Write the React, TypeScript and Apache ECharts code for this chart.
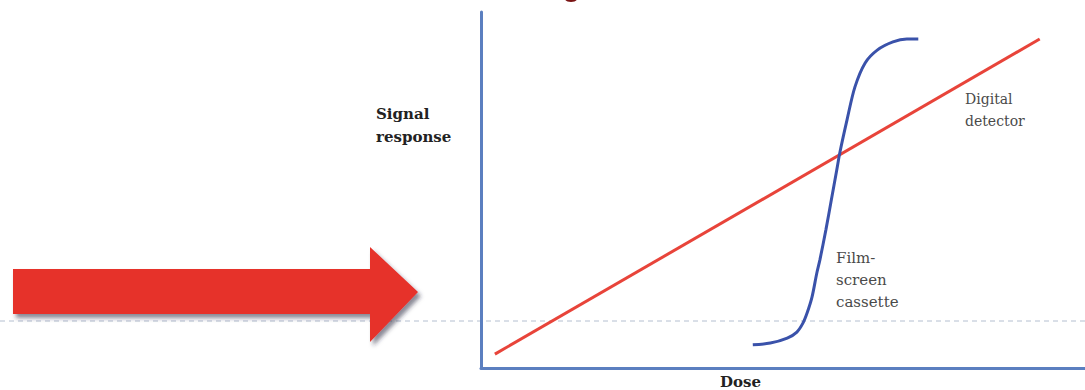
import React, { useEffect, useRef } from "react";
import * as echarts from "echarts";

// Straight-line response (Digital detector): [dose, signal]
const digitalDetector: [number, number][] = [
  [2.3, 3.9],
  [92.5, 92.4],
];

// S-shaped response (Film-screen cassette): [dose, signal]
const filmScreen: [number, number][] = [
  [45.0, 6.5],
  [47.9, 7.0],
  [50.7, 8.4],
  [52.3, 10.1],
  [53.3, 12.6],
  [54.0, 15.5],
  [54.8, 19.9],
  [55.6, 26.7],
  [56.1, 30.3],
  [57.1, 38.8],
  [58.0, 47.2],
  [58.9, 55.6],
  [59.4, 60.4],
  [60.6, 69.7],
  [61.9, 78.9],
  [63.6, 85.7],
  [65.6, 89.3],
  [68.2, 91.6],
  [70.5, 92.4],
  [72.4, 92.4],
];

const yAxisTitle = ["Signal", "response"];
const xAxisTitle = "Dose";
const digitalLabel = ["Digital", "detector"];
const filmLabel = ["Film-", "screen", "cassette"];

export default function App() {
  const ref = useRef<HTMLDivElement>(null);

  useEffect(() => {
    if (!ref.current) return;
    const chart = echarts.init(ref.current, undefined, { renderer: "svg" });
    const axisColor = "#5b7fc0";
    const serif = "DejaVu Serif";
    chart.setOption({
      animation: false,
      backgroundColor: "#ffffff",
      grid: { left: 481, right: 0, top: 12, bottom: 22 },
      xAxis: {
        type: "value",
        min: 0,
        max: 100,
        axisLine: { show: true, lineStyle: { color: axisColor, width: 3 } },
        axisTick: { show: false },
        axisLabel: { show: false },
        splitLine: { show: false },
      },
      yAxis: {
        type: "value",
        min: 0,
        max: 100,
        axisLine: { show: true, lineStyle: { color: axisColor, width: 3 } },
        axisTick: { show: false },
        axisLabel: { show: false },
        splitLine: { show: false },
      },
      graphic: [
        {
          type: "line",
          z: 0,
          shape: { x1: 0, y1: 321, x2: 1085, y2: 321 },
          style: { stroke: "#b4bfd0", lineWidth: 1, lineDash: [5, 4] },
        },
        {
          type: "polygon",
          z: 10,
          shape: {
            points: [
              [13, 269],
              [370, 269],
              [370, 247],
              [418, 292],
              [370, 342],
              [370, 314],
              [13, 314],
            ],
          },
          style: {
            fill: "#e6302a",
            shadowColor: "rgba(40,40,60,0.55)",
            shadowBlur: 4,
            shadowOffsetX: 3,
            shadowOffsetY: 4,
          },
        },
        {
          type: "ellipse",
          shape: { cx: 571, cy: -1, rx: 6, ry: 3 },
          style: { fill: "#7a1414" },
        },
        {
          type: "text",
          x: 376,
          y: 102,
          style: {
            text: yAxisTitle.join("\n"),
            font: `bold 15px "${serif}"`,
            fill: "#222222",
            lineHeight: 23,
          },
        },
        {
          type: "text",
          x: 720,
          y: 374,
          style: {
            text: xAxisTitle,
            font: `bold 15px "${serif}"`,
            fill: "#222222",
          },
        },
        {
          type: "text",
          x: 965,
          y: 88,
          style: {
            text: digitalLabel.join("\n"),
            font: `14px "${serif}"`,
            fill: "#4a4a4a",
            lineHeight: 22,
          },
        },
        {
          type: "text",
          x: 836,
          y: 247,
          style: {
            text: filmLabel.join("\n"),
            font: `15px "${serif}"`,
            fill: "#4a4a4a",
            lineHeight: 22,
          },
        },
      ],
      series: [
        {
          name: "Digital detector",
          type: "line",
          data: digitalDetector,
          showSymbol: false,
          lineStyle: { color: "#e8443a", width: 3 },
          silent: true,
        },
        {
          name: "Film-screen cassette",
          type: "line",
          data: filmScreen,
          smooth: 0.3,
          showSymbol: false,
          lineStyle: { color: "#3a52aa", width: 3 },
          silent: true,
        },
      ],
    });
    return () => chart.dispose();
  }, []);

  return (
    <div
      ref={ref}
      style={{ position: "fixed", left: 0, top: 0, width: 1085, height: 390 }}
    />
  );
}
